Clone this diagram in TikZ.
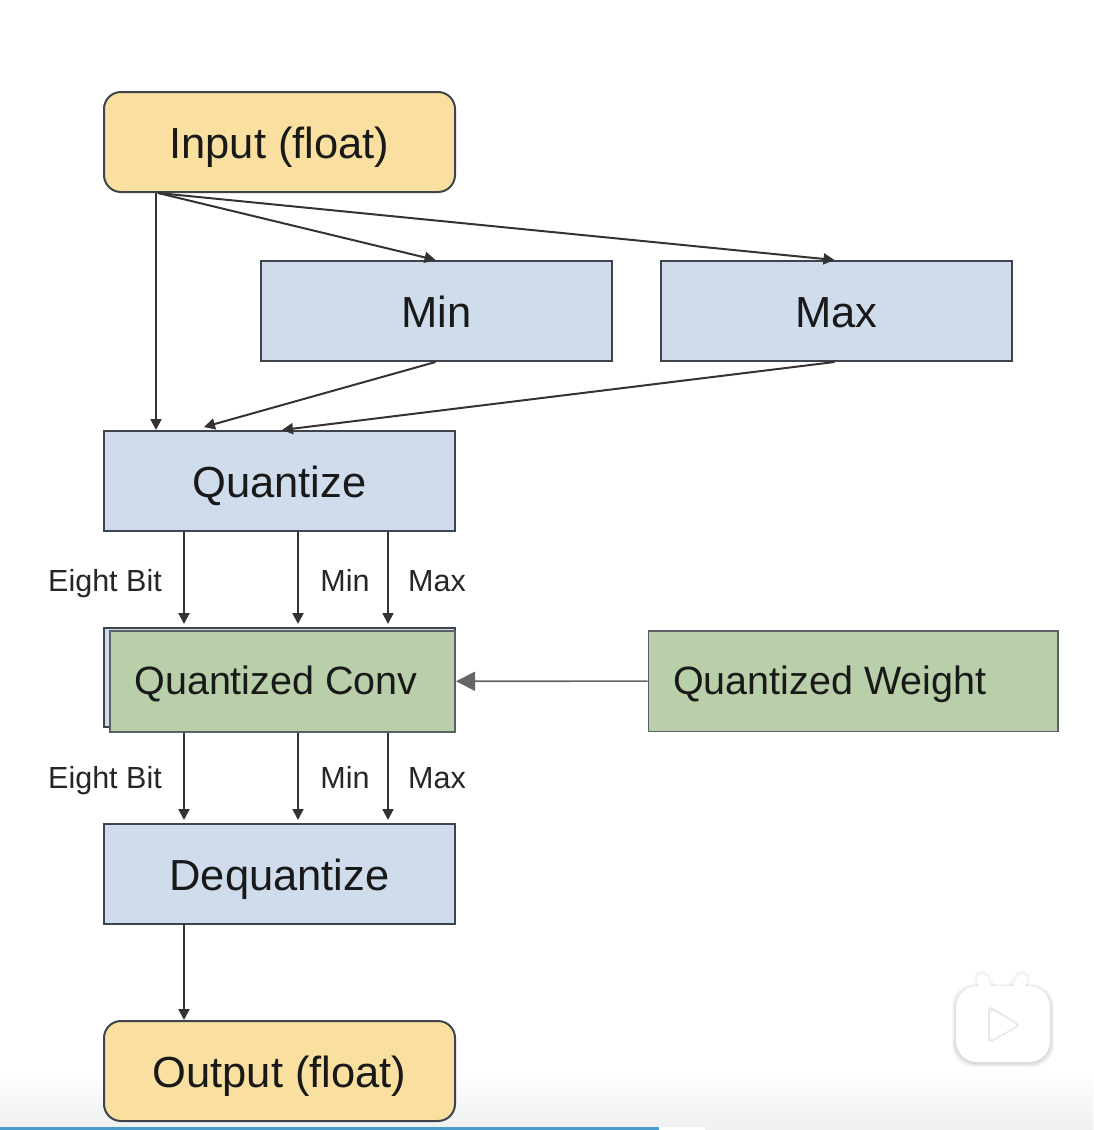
\documentclass[tikz,border=0pt]{standalone}
\usepackage{fontspec}
\setmainfont{Liberation Sans}
\usetikzlibrary{arrows.meta,calc}
\definecolor{yel}{HTML}{F9E0A0}
\definecolor{blu}{HTML}{CFDCEC}
\definecolor{grn}{HTML}{B9CFA9}
\definecolor{edge}{HTML}{3E444C}
\tikzset{
  x=1pt,y=-1pt,
  box/.style={draw=edge,line width=2pt,anchor=north west,inner sep=0pt,text=black!90,text height=32pt,text depth=0pt,font=\fontsize{43.5}{48}\selectfont},
  bluebox/.style={box,fill=blu,minimum width=351pt,minimum height=100pt},
  yelbox/.style={box,fill=yel,rounded corners=17pt,minimum width=351pt,minimum height=100pt},
  grnbox/.style={box,fill=grn,minimum height=100.5pt,text height=27pt,font=\fontsize{39.5}{44}\selectfont},
  conn/.style={draw=black!80,line width=2pt,-{Triangle[length=11pt,width=11pt]}},
  lab/.style={inner sep=0pt,anchor=base,text=black!85,font=\fontsize{30.5}{34}\selectfont},
  logoshape/.style={rounded corners=21pt}
}
\begin{document}
\begin{tikzpicture}
\useasboundingbox (0,0) rectangle (1093,1130);
\fill[white] (0,0) rectangle (1093,1130);
\shade[top color=white,bottom color=black!6] (0,1070) rectangle (1093,1130);
\fill[white] (659,1127) rectangle (705,1130);
\fill[fill={rgb,255:red,74;green,157;blue,207}] (0,1127) rectangle (659,1130);

\node[yelbox] (input) at (103,91) {Input (float)};
\node[bluebox] (min) at (260,260) {Min};
\node[bluebox] (max) at (660,260) {Max};
\node[bluebox] (quant) at (103,430) {Quantize};
\node[box,fill=blu,minimum width=351pt,minimum height=99pt] (back) at (103,627) {};
\node[grnbox,draw=edge!85,minimum width=345pt] (conv) at (109,630) {\hspace*{2pt}Quantized Conv\hspace*{15pt}};
\node[grnbox,draw=edge!85,line width=1.8pt,minimum width=409.5pt] (weight) at (647.5,630) {Quantized Weight\hspace*{47pt}};
\node[bluebox] (deq) at (103,823) {Dequantize};
\node[yelbox] (output) at (103,1020) {Output (float)};

% connectors
\draw[conn] ([xshift=53pt]input.south west) -- ([xshift=53pt]quant.north west);
\draw[conn] ([xshift=55pt]input.south west) -- ([xshift=-1pt]min.north);
\draw[conn] ([xshift=55pt]input.south west) -- ([xshift=-2pt]max.north);
\draw[conn] ([xshift=-1pt]min.south) -- ([xshift=101pt,yshift=3pt]quant.north west);
\draw[conn] ([xshift=-2pt]max.south) -- ([xshift=179pt]quant.north west);
\foreach \dx in {81,195,285}{
  \draw[conn] ([xshift=\dx pt]quant.south west) -- ([xshift=\dx pt,yshift=3pt]back.north west);
  \draw[conn] ([xshift=\dx pt]back.north west |- conv.south) -- ([xshift=\dx pt,yshift=3pt]deq.north west);
}
\draw[conn] ([xshift=81pt]deq.south west) -- ([xshift=81pt]output.north west);
\draw[draw=black!60,line width=1.6pt,-{Triangle[length=19pt,width=19pt]}] (weight.west) -- (conv.east);

% labels
\node[lab] (l1) at (105,591) {Eight Bit};
\node[lab] (l2) at (345,591) {Min};
\node[lab] (l3) at (437,591) {Max};
\node[lab] (l4) at (105,788) {Eight Bit};
\node[lab] (l5) at (345,788) {Min};
\node[lab] (l6) at (437,788) {Max};

% logo: soft shadow built from translucent layers
\foreach \g in {4,3,2,1}{
  \fill[black,opacity=0.035,rounded corners=22pt] (956-\g,986-\g+2) rectangle (1050+\g,1062+\g+1);
}
\foreach \g in {3,1}{
  \draw[black,opacity=0.03,line width=11pt+2*\g pt,line cap=round] (988,990) -- (982,979);
  \draw[black,opacity=0.03,line width=11pt+2*\g pt,line cap=round] (1016,990) -- (1022,979);
}
\draw[white,line width=11pt,line cap=round] (988,992) -- (982,979);
\draw[white,line width=11pt,line cap=round] (1016,992) -- (1022,979);
\fill[white,logoshape] (956,986) rectangle (1050,1062);
\fill[black!9,rounded corners=5pt] (988,1005) -- (1021,1025) -- (988,1044) -- cycle;
\fill[white,rounded corners=4pt] (990,1009) -- (1018,1025) -- (990,1041) -- cycle;
\end{tikzpicture}
\end{document}
